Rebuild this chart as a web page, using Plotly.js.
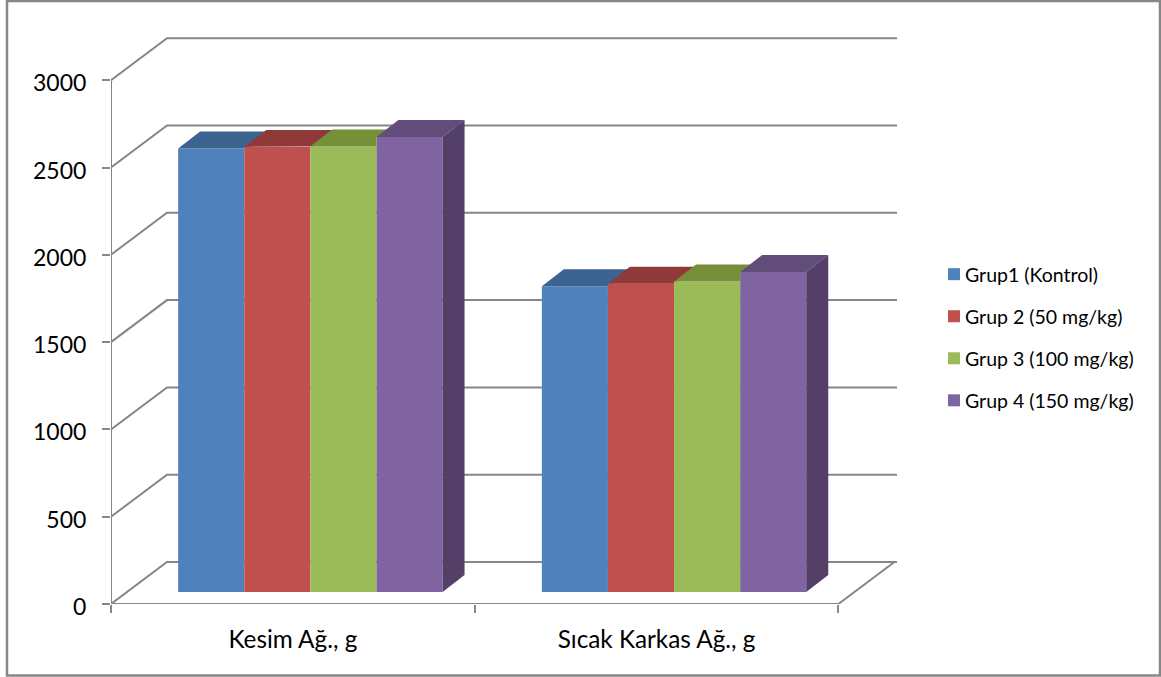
<!DOCTYPE html>
<html><head><meta charset="utf-8">
<script src="https://cdn.plot.ly/plotly-3.0.1.min.js"></script>
<style>html,body{margin:0;padding:0;background:#fff}#chart{width:1161px;height:677px}</style>
</head><body><div id="chart"></div>
<script>
const categories = ["Kesim Ağ., g", "Sıcak Karkas Ağ., g"];
const grup1 = [2540, 1751];
const grup2 = [2549, 1766];
const grup3 = [2552, 1778];
const grup4 = [2606, 1833];
const seriesNames = ["Grup1 (Kontrol)", "Grup 2 (50 mg/kg)", "Grup 3 (100 mg/kg)", "Grup 4 (150 mg/kg)"];
const frontColors = ["#4F81BD", "#C0504D", "#9BBB59", "#8064A2"];
const topColors = ["#3D6390", "#8F3A38", "#769039", "#614C7A"];
const sideColor = "#543F69";
const gridColor = "#868686";
const yTicks = [0, 500, 1000, 1500, 2000, 2500, 3000];

// pixel scale of the oblique projection
const W = 1161, H = 677;
const m = {l: 111, r: 264, t: 37, b: 73};
const pxPerX = 363.7, pxPerY = 0.1746;
const px = p => p / pxPerX, py = p => p / pxPerY;
const xRange = [-0.5, -0.5 + (W - m.l - m.r) / pxPerX];
const yRange = [0, (H - m.t - m.b) / pxPerY];
const wallDx = px(56), wallDy = py(42);
const frontDx = px(17.5), frontDy = py(12);
const barDx = px(22), barDy = py(17);
const bargap = 0.273;
const barW = (1 - bargap) / 4;
const series = [grup1, grup2, grup3, grup4];
const xPos = categories.map((c, i) => i + frontDx);

const traces = [];
series.forEach((vals, s) => {
  traces.push({type: "bar", name: seriesNames[s], x: xPos, y: vals, base: frontDy,
    marker: {color: frontColors[s], line: {width: 0}}, legendgroup: "g" + s, hoverinfo: "y+name"});
});
series.forEach((vals, s) => {
  vals.forEach((v, i) => {
    const l = xPos[i] + (s - 2) * barW, r = l + barW, h = v + frontDy;
    // a taller neighbour's front face hides the corner of this top face
    const hn = s < series.length - 1 ? Math.max(h, series[s + 1][i] + frontDy) : h;
    traces.push({type: "scatter", mode: "lines",
      x: [l, r, r, r + (hn - h) * barDx / barDy, r + barDx, l + barDx, l],
      y: [h, h, hn, hn, h + barDy, h + barDy, h],
      fill: "toself", fillcolor: topColors[s], line: {width: 0}, showlegend: false, hoverinfo: "skip"});
    if (s === series.length - 1) {
      traces.push({type: "scatter", mode: "lines", x: [r, r + barDx, r + barDx, r, r], y: [frontDy, frontDy + barDy, h + barDy, h, frontDy],
        fill: "toself", fillcolor: sideColor, line: {width: 0}, showlegend: false, hoverinfo: "skip"});
    }
  });
});

const gridLine = {color: gridColor, width: 2};
const shapes = yTicks.map(v => ({type: "path", xref: "x", yref: "y", layer: "below", line: gridLine,
  path: `M${xRange[0]},${v} L${xRange[0] + wallDx},${v + wallDy} L${xRange[1]},${v + wallDy}`}));
shapes.push({type: "path", xref: "x", yref: "y", layer: "below", line: gridLine,
  path: `M${xRange[0]},0 L1.5,0 L${1.5 + wallDx},${wallDy}`});
shapes.push({type: "line", xref: "x", yref: "y", layer: "below", line: gridLine, x0: xRange[0], x1: xRange[0], y0: 0, y1: 3000});
shapes.push({type: "rect", xref: "paper", yref: "paper", layer: "below", line: {color: gridColor, width: 2.5}, fillcolor: "rgba(0,0,0,0)",
  x0: (7 - m.l) / (W - m.l - m.r), x1: (1160 - m.l) / (W - m.l - m.r),
  y0: (H - m.b - 675.5) / (H - m.t - m.b), y1: (H - m.b - 1) / (H - m.t - m.b)});

const layout = {
  width: W, height: H, margin: m, paper_bgcolor: "#fff", plot_bgcolor: "rgba(0,0,0,0)",
  barmode: "group", bargap: bargap, bargroupgap: 0,
  font: {family: "Lato, sans-serif", color: "#000"},
  xaxis: {range: xRange, showgrid: false, zeroline: false, showline: false, ticks: "",
    tickmode: "array", tickvals: [0, 1], ticktext: categories, tickfont: {size: 24.3}, ticklabelstandoff: 19,
    minor: {tickmode: "array", tickvals: [-0.5, 0.5, 1.5], ticks: "outside", ticklen: 8, tickcolor: gridColor, tickwidth: 2, showgrid: false}},
  yaxis: {range: yRange, showgrid: false, zeroline: false, showline: false, ticks: "outside", ticklen: 8, tickcolor: gridColor, tickwidth: 2,
    tickmode: "array", tickvals: yTicks, tickfont: {size: 23}, ticklabelstandoff: 11, ticklabelshift: 3},
  legend: {x: (925 - m.l) / (W - m.l - m.r), xanchor: "left", y: (H - m.b - 255) / (H - m.t - m.b), yanchor: "top",
    font: {size: 19.5}, tracegroupgap: 13.7, traceorder: "grouped", bgcolor: "rgba(0,0,0,0)"},
  shapes: shapes, showlegend: true
};
Plotly.newPlot("chart", traces, layout, {displayModeBar: false, staticPlot: true}).then(() => {
  document.querySelectorAll("#chart .legendsymbols").forEach(g => g.setAttribute("transform", "translate(9,0)"));
});
</script></body></html>
